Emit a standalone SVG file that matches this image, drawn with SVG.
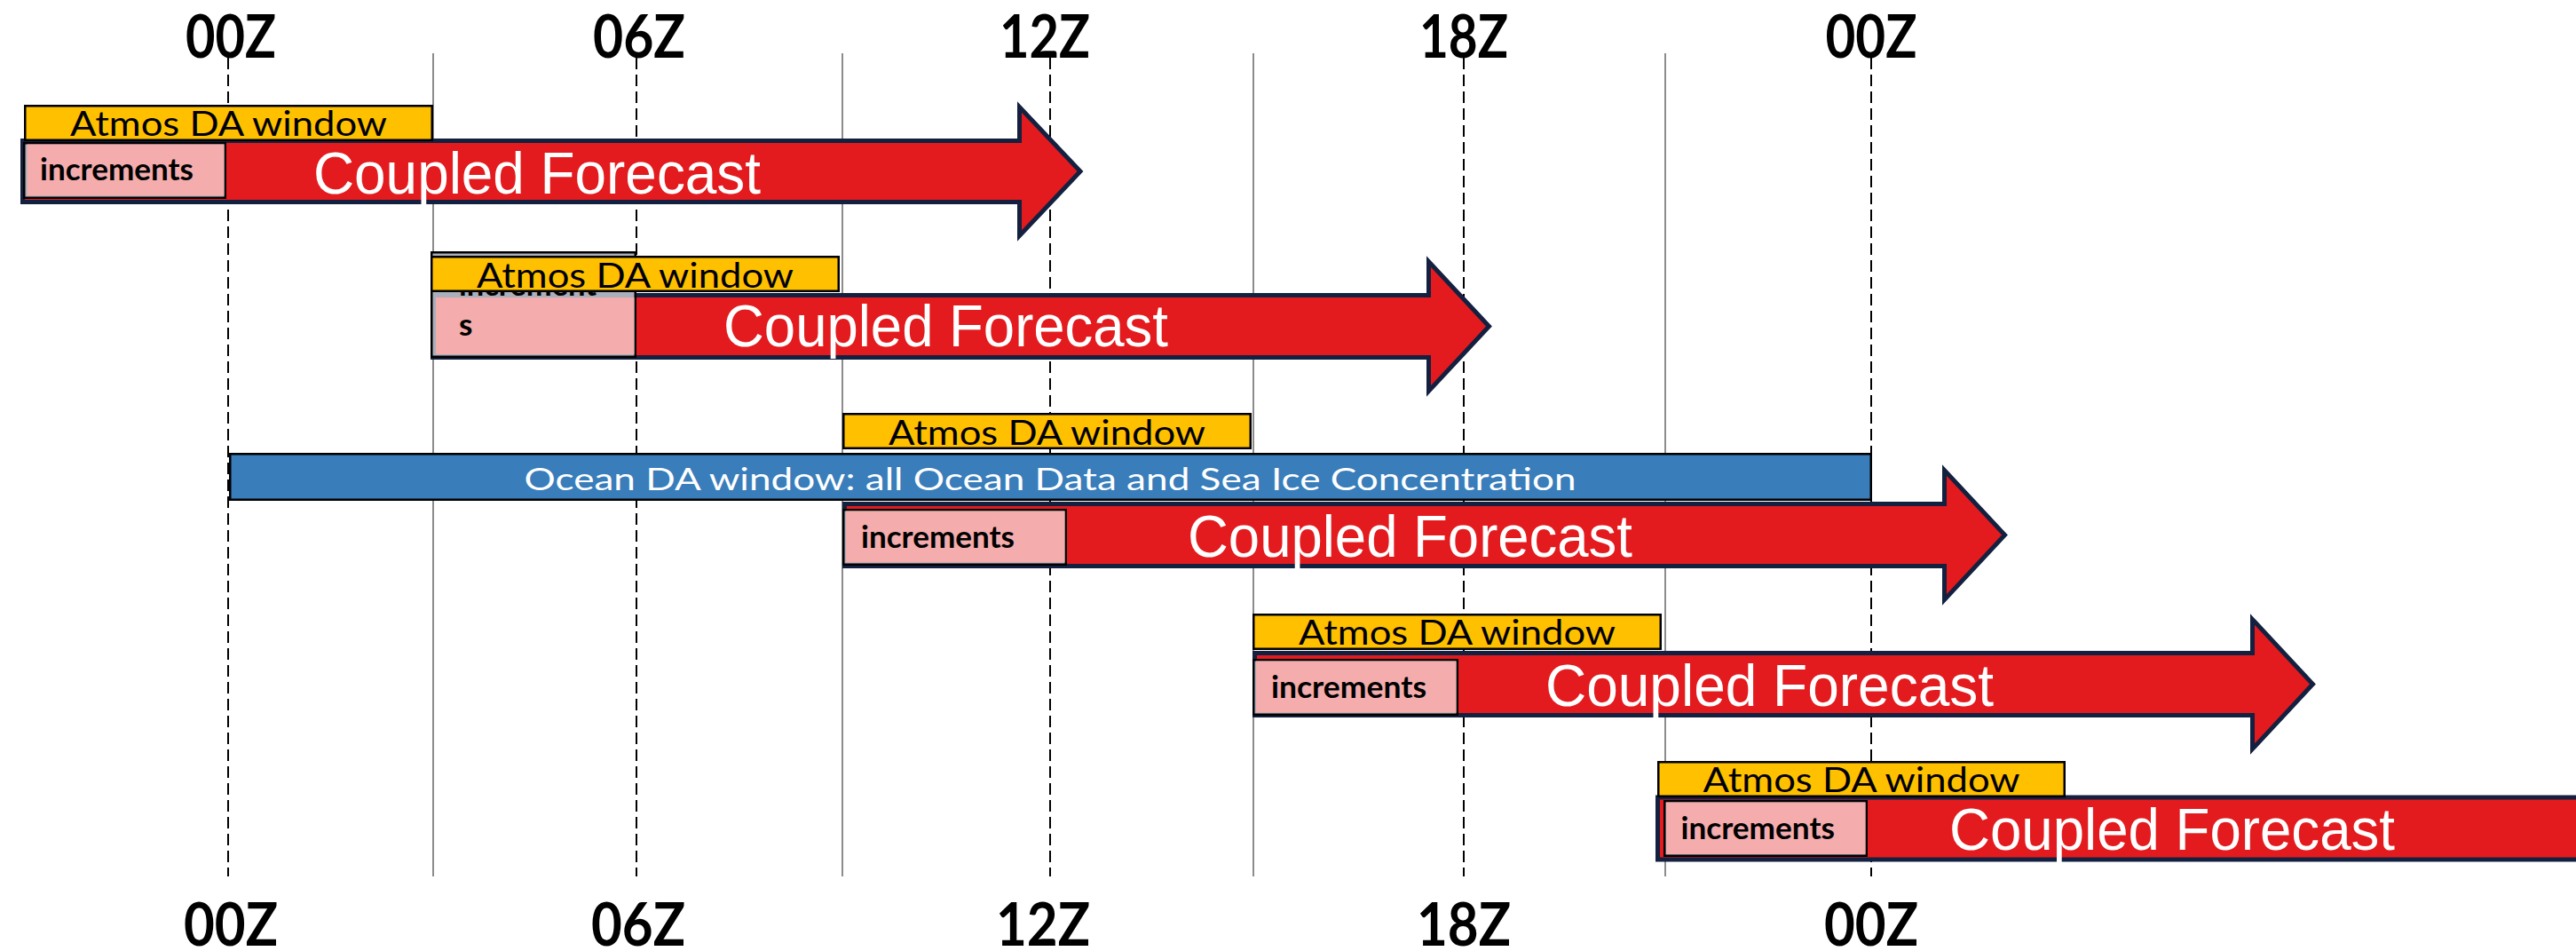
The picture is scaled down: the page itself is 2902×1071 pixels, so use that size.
<svg xmlns="http://www.w3.org/2000/svg" width="2902" height="1071" viewBox="0 0 2902 1071">
  <style>
    .grid { stroke: #8c8c8c; stroke-width: 2; }
    .dash { stroke: #000; stroke-width: 2; stroke-dasharray: 13 6; }
    .time { font-family: Lato, "Liberation Sans", sans-serif; font-weight: 700; font-size: 67px; text-anchor: middle; fill: #000; }
    .arrow { fill: #e31b1e; stroke: #13203f; stroke-width: 5; stroke-linejoin: miter; stroke-miterlimit: 10; }
    .incbg { fill: #a9afbb; stroke: #000; stroke-width: 2.5; }
    .inc { fill: #f4acac; }
    .inct { font-family: Lato, "Liberation Sans", sans-serif; font-weight: 700; font-size: 35px; fill: #000; }
    .win { fill: #ffc000; stroke: #000; stroke-width: 2.5; }
    .wint { font-family: Lato, "Liberation Sans", sans-serif; font-size: 39px; text-anchor: middle; fill: #000; }
    .cf { font-family: "Liberation Sans", Arial, sans-serif; font-size: 66px; fill: #fff; }
    .ocean { fill: #397dba; stroke: #000; stroke-width: 2.5; }
    .oceant { font-family: Lato, "Liberation Sans", sans-serif; font-size: 34px; text-anchor: middle; fill: #fff; }
  </style>

  <rect width="2902" height="1071" fill="#fff"/>

  <!-- time axis: synoptic times (dashed) and 3-hourly grid (solid) -->
  <g id="axis">
    <line class="grid" x1="488" y1="60" x2="488" y2="987"/>
    <line class="grid" x1="949" y1="60" x2="949" y2="987"/>
    <line class="grid" x1="1412" y1="60" x2="1412" y2="987"/>
    <line class="grid" x1="1876" y1="60" x2="1876" y2="987"/>
    <line class="dash" x1="257" y1="65" x2="257" y2="987"/>
    <line class="dash" x1="717" y1="65" x2="717" y2="987"/>
    <line class="dash" x1="1183" y1="65" x2="1183" y2="987"/>
    <line class="dash" x1="1649" y1="65" x2="1649" y2="987"/>
    <line class="dash" x1="2108" y1="65" x2="2108" y2="987"/>
  </g>

  <g id="time-labels-top">
    <text class="time" x="260" y="65" textLength="102" lengthAdjust="spacingAndGlyphs">00Z</text>
    <text class="time" x="720" y="65" textLength="104" lengthAdjust="spacingAndGlyphs">06Z</text>
    <text class="time" x="1177" y="65" textLength="102" lengthAdjust="spacingAndGlyphs">12Z</text>
    <text class="time" x="1649" y="65" textLength="100" lengthAdjust="spacingAndGlyphs">18Z</text>
    <text class="time" x="2108" y="65" textLength="103" lengthAdjust="spacingAndGlyphs">00Z</text>
  </g>
  <g id="time-labels-bottom">
    <text class="time" x="260" y="1065" textLength="106" lengthAdjust="spacingAndGlyphs">00Z</text>
    <text class="time" x="719" y="1065" textLength="106" lengthAdjust="spacingAndGlyphs">06Z</text>
    <text class="time" x="1175" y="1065" textLength="106" lengthAdjust="spacingAndGlyphs">12Z</text>
    <text class="time" x="1649" y="1065" textLength="106" lengthAdjust="spacingAndGlyphs">18Z</text>
    <text class="time" x="2108" y="1065" textLength="106" lengthAdjust="spacingAndGlyphs">00Z</text>
  </g>

  <!-- cycle 1: 00Z -->
  <g id="cycle-00z">
    <polygon class="arrow" points="25.5,158.5 1148.5,158.5 1148.5,120.5 1217,193 1148.5,265.5 1148.5,227.5 25.5,227.5"/>
    <rect class="incbg" x="27.25" y="161.25" width="226.5" height="61.5"/>
    <rect class="inc" x="30.5" y="162.5" width="222" height="58"/>
    <text class="inct" x="45" y="203" textLength="173" lengthAdjust="spacingAndGlyphs">increments</text>
    <text class="cf" x="353" y="218" textLength="504" lengthAdjust="spacingAndGlyphs">Coupled Forecast</text>
    <rect class="win" x="28.25" y="119.25" width="458.5" height="38.5"/>
    <text class="wint" x="257.5" y="153" textLength="357" lengthAdjust="spacingAndGlyphs">Atmos DA window</text>
  </g>

  <!-- cycle 2: 06Z (label wraps; its first line sits under the window bar) -->
  <g id="cycle-06z">
    <polygon class="arrow" points="487.5,332.5 1609.5,332.5 1609.5,294.5 1677.5,367.5 1609.5,440.5 1609.5,402.5 487.5,402.5"/>
    <rect class="incbg" x="486.25" y="284.25" width="229.5" height="117.5"/>
    <rect class="inc" x="491" y="335" width="223.5" height="64"/>
    <text class="inct" x="517" y="333" textLength="155" lengthAdjust="spacingAndGlyphs">increment</text>
    <text class="inct" x="517" y="378">s</text>
    <text class="cf" x="815" y="390" textLength="501" lengthAdjust="spacingAndGlyphs">Coupled Forecast</text>
    <rect class="win" x="486.25" y="289.25" width="458.5" height="38.5"/>
    <text class="wint" x="715.5" y="324" textLength="357" lengthAdjust="spacingAndGlyphs">Atmos DA window</text>
  </g>

  <!-- ocean assimilation window spanning 00Z to 00Z -->
  <g id="ocean-window">
    <rect class="ocean" x="259.25" y="511.25" width="1848.5" height="51.5"/>
    <text class="oceant" x="1183" y="552" textLength="1185" lengthAdjust="spacingAndGlyphs">Ocean DA window: all Ocean Data and Sea Ice Concentration</text>
  </g>

  <!-- cycle 3: 12Z -->
  <g id="cycle-12z">
    <polygon class="arrow" points="951.5,567.5 2190.5,567.5 2190.5,529.5 2258.5,602.5 2190.5,675.5 2190.5,637.5 951.5,637.5"/>
    <rect class="incbg" x="950.25" y="574.25" width="250.5" height="61.5"/>
    <rect class="inc" x="953" y="575.5" width="246.5" height="58"/>
    <text class="inct" x="970" y="617" textLength="173" lengthAdjust="spacingAndGlyphs">increments</text>
    <text class="cf" x="1338" y="626.5" textLength="501" lengthAdjust="spacingAndGlyphs">Coupled Forecast</text>
    <rect class="win" x="950.25" y="466.25" width="458.5" height="38.5"/>
    <text class="wint" x="1179.5" y="501" textLength="357" lengthAdjust="spacingAndGlyphs">Atmos DA window</text>
  </g>

  <!-- cycle 4: 18Z -->
  <g id="cycle-18z">
    <polygon class="arrow" points="1413.5,735.5 2537.5,735.5 2537.5,697.5 2605.5,770.5 2537.5,843.5 2537.5,805.5 1413.5,805.5"/>
    <rect class="incbg" x="1412.25" y="743.25" width="229.5" height="61.5"/>
    <rect class="inc" x="1415" y="744.5" width="225.5" height="58"/>
    <text class="inct" x="1432" y="786" textLength="175" lengthAdjust="spacingAndGlyphs">increments</text>
    <text class="cf" x="1741" y="795" textLength="505" lengthAdjust="spacingAndGlyphs">Coupled Forecast</text>
    <rect class="win" x="1412.25" y="692.25" width="458.5" height="38.5"/>
    <text class="wint" x="1641.5" y="726" textLength="357" lengthAdjust="spacingAndGlyphs">Atmos DA window</text>
  </g>

  <!-- cycle 5: next 00Z, forecast runs past the right edge -->
  <g id="cycle-00z-next">
    <polygon class="arrow" points="1867.5,898 3000,898 3000,860 3068,933 3000,1006 3000,968 1867.5,968"/>
    <rect class="incbg" x="1875.25" y="902.25" width="227.5" height="61.5"/>
    <rect class="inc" x="1877" y="903.5" width="224.5" height="58.5"/>
    <text class="inct" x="1893.5" y="945" textLength="173.5" lengthAdjust="spacingAndGlyphs">increments</text>
    <text class="cf" x="2196" y="957" textLength="502" lengthAdjust="spacingAndGlyphs">Coupled Forecast</text>
    <rect class="win" x="1868.25" y="858.25" width="457.5" height="38.5"/>
    <text class="wint" x="2097" y="892" textLength="357" lengthAdjust="spacingAndGlyphs">Atmos DA window</text>
  </g>
</svg>
